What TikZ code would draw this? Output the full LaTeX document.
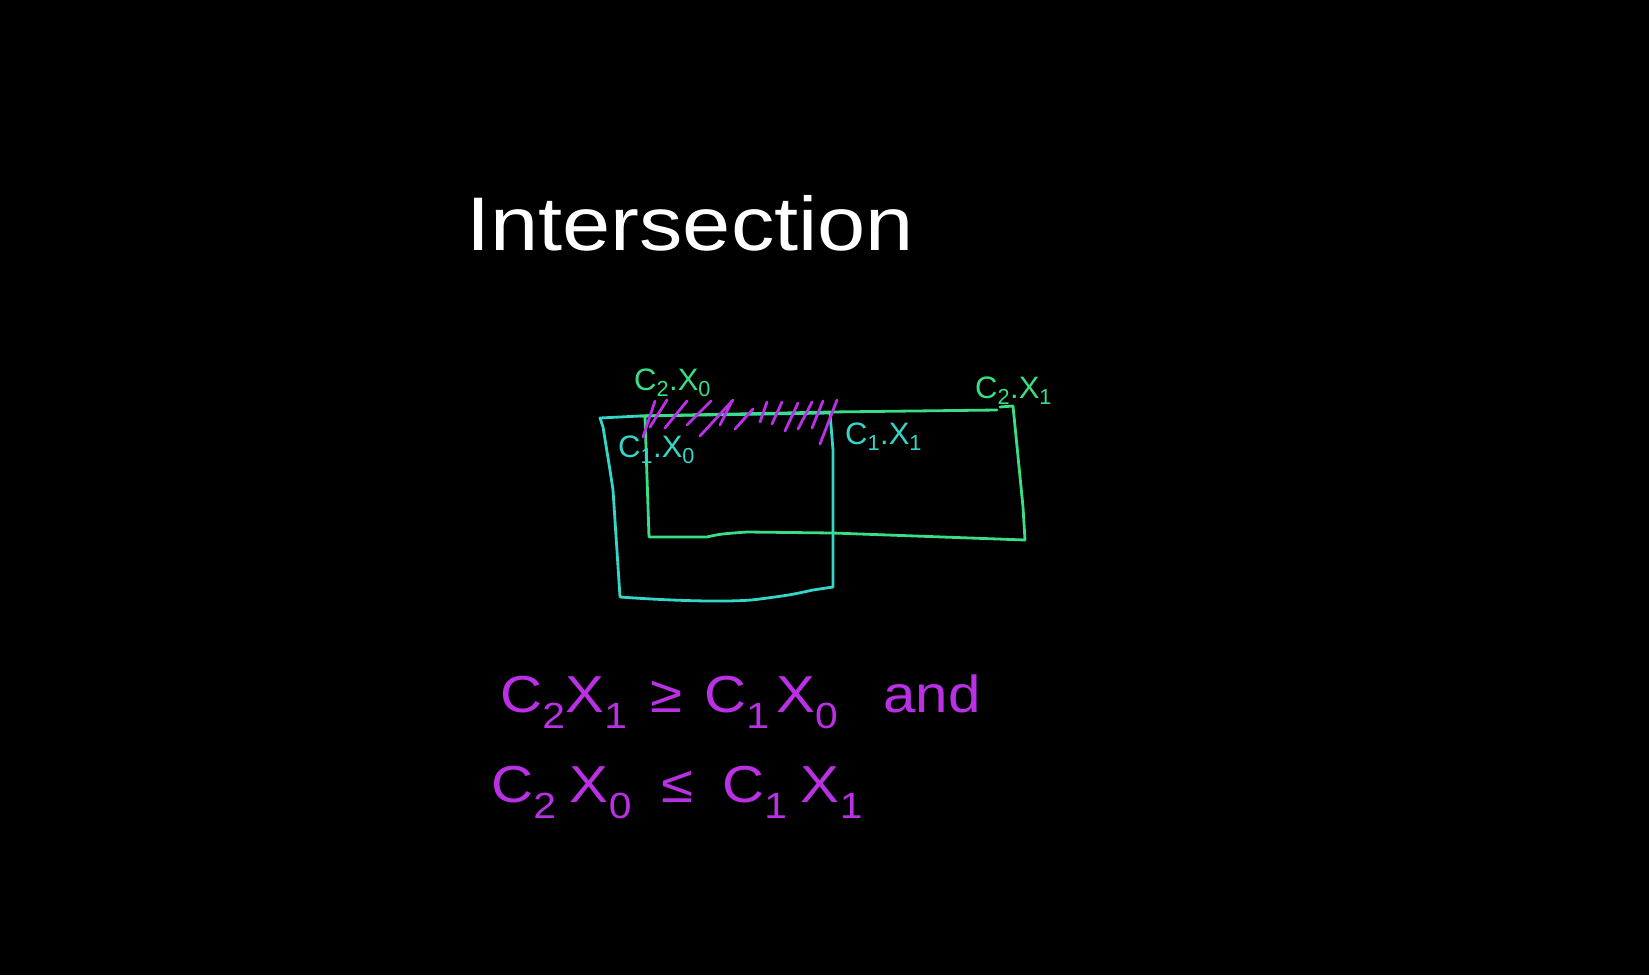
\documentclass[tikz,border=0pt]{standalone}
\usepackage{fontspec}
\setmainfont{Liberation Sans}
\definecolor{cyanC}{RGB}{52,214,200}
\definecolor{greenC}{RGB}{58,222,132}
\definecolor{purpC}{RGB}{186,48,228}
\tikzset{
  pen/.style={line width=2.8pt, line cap=round, line join=round},
  lbl/.style={anchor=base west, inner sep=0pt, font=\fontsize{31}{31}\selectfont},
  eqn/.style={anchor=base west, inner sep=0pt, text=purpC, font=\fontsize{52}{52}\selectfont, xscale=1.12},
}
\begin{document}
\begin{tikzpicture}[x=1pt,y=-1pt]
\useasboundingbox[fill=black] (0,0) rectangle (1649,975);
% title
\node[anchor=base west, inner sep=0pt, text=white, font=\fontsize{76}{76}\selectfont, xscale=1.14] (title) at (466,250) {Intersection};
% C1 rectangle (cyan)
\draw[pen, cyanC] (600,418) -- (603,427) .. controls (610,470) .. (613,490) -- (620,597)
  .. controls (690,602) and (740,602) .. (760,599) .. controls (790,595) .. (813,590) -- (833,587)
  -- (833,450) -- (830,413) -- (640,416) -- cycle;
% C2 rectangle (green)
\draw[pen, greenC] (640,416) -- (830,412) -- (997,410);
\draw[pen, greenC] (1000,407) -- (1013,406) -- (1023,507) -- (1025,540)
  -- (833,533) -- (747,532) .. controls (720,534) .. (707,537) -- (649,537) -- (645,417);
% hatching
\foreach \a/\b/\c/\d in {655/401/643/437, 667/400/650/427, 687/401/665/428, 711/401/687/425,
  733/400/700/436, 732/401/720/425, 753/409/735/429, 767/402/760/422, 782/402/772/424,
  798/403/785/431, 812/402/798/429, 823/401/812/428, 837/400/820/444}
  \draw[pen, purpC] (\a,\b) -- (\c,\d);
% labels
\node[lbl, text=greenC] (c2x0) at (634,390) {C\textsubscript{2}.X\textsubscript{0}};
\node[lbl, text=cyanC] (c1x0) at (618,457) {C\textsubscript{1}.X\textsubscript{0}};
\node[lbl, text=cyanC] (c1x1) at (845,444) {C\textsubscript{1}.X\textsubscript{1}};
\node[lbl, text=greenC] (c2x1) at (975,398) {C\textsubscript{2}.X\textsubscript{1}};
% conditions
\node[eqn] (cond1) at (500,712) {C\textsubscript{2}X\textsubscript{1}\kern 20pt≥\kern 20pt C\textsubscript{1}\kern 6pt X\textsubscript{0}\kern 40pt and};
\node[eqn] (cond2) at (491,802) {C\textsubscript{2}\kern 12pt X\textsubscript{0}\kern 26pt ≤\kern 26pt C\textsubscript{1}\kern 12pt X\textsubscript{1}};
\end{tikzpicture}
\end{document}
